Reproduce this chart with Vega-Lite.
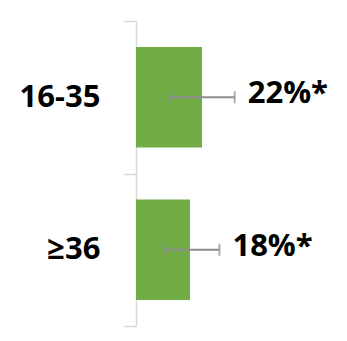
{
  "$schema": "https://vega.github.io/schema/vega-lite/v6.json",
  "autosize": {"type": "none"},
  "width": 210,
  "height": 305,
  "padding": {"left": 136, "top": 21, "right": 1, "bottom": 15},
  "background": "white",
  "config": {"view": {"stroke": null}},
  "data": {
    "values": [
      {"age": "16-35", "pct": 22, "lo": 11.3, "hi": 32.9, "label": "22%*"},
      {"age": "≥36", "pct": 18, "lo": 9.4, "hi": 27.8, "label": "18%*"}
    ]
  },
  "encoding": {
    "y": {
      "field": "age",
      "type": "nominal",
      "sort": null,
      "scale": {"paddingInner": 0, "paddingOuter": 0},
      "axis": {
        "title": null,
        "tickBand": "extent",
        "domainColor": "#d9d9d9",
        "domainWidth": 1.5,
        "tickColor": "#d9d9d9",
        "tickWidth": 1.5,
        "tickSize": 12,
        "labelPadding": 24,
        "labelFont": "Open Sans",
        "labelFontWeight": "bold",
        "labelFontSize": 31,
        "labelColor": "#000000"
      }
    }
  },
  "layer": [
    {
      "mark": {"type": "bar", "color": "#70ad47", "height": {"band": 0.66}},
      "encoding": {
        "x": {
          "field": "pct",
          "type": "quantitative",
          "scale": {"domain": [0, 70]},
          "axis": null
        }
      }
    },
    {
      "mark": {"type": "rule", "color": "#8c8c8c", "strokeWidth": 2},
      "encoding": {
        "x": {"field": "lo", "type": "quantitative"},
        "x2": {"field": "hi"}
      }
    },
    {
      "mark": {"type": "tick", "color": "#8c8c8c", "size": 12, "thickness": 2},
      "encoding": {"x": {"field": "lo", "type": "quantitative"}}
    },
    {
      "mark": {"type": "tick", "color": "#8c8c8c", "size": 12, "thickness": 2},
      "encoding": {"x": {"field": "hi", "type": "quantitative"}}
    },
    {
      "mark": {
        "type": "text",
        "align": "left",
        "baseline": "middle",
        "dx": 13,
        "dy": -3,
        "font": "Open Sans",
        "fontWeight": "bold",
        "fontSize": 31,
        "color": "#000000"
      },
      "encoding": {
        "x": {"field": "hi", "type": "quantitative"},
        "text": {"field": "label"}
      }
    }
  ]
}
